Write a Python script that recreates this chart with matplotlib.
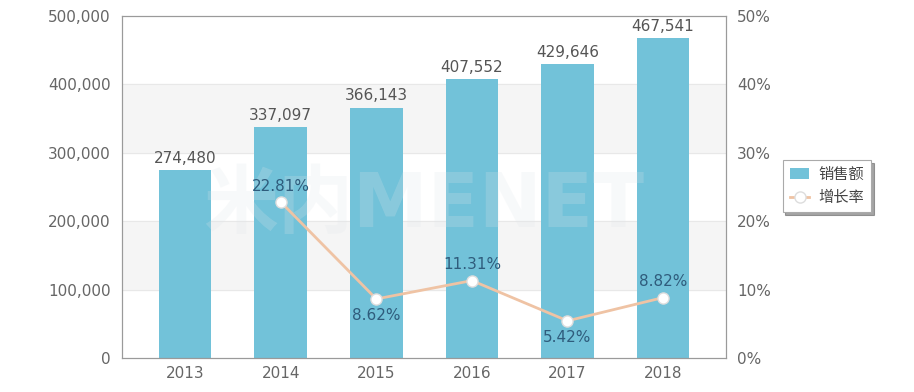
import matplotlib
matplotlib.use('Agg')
import matplotlib.pyplot as plt
from matplotlib.ticker import FuncFormatter
import numpy as np

plt.rcParams['font.family'] = ['DejaVu Sans', 'Noto Sans CJK SC']

years = ['2013', '2014', '2015', '2016', '2017', '2018']
sales = [274480, 337097, 366143, 407552, 429646, 467541]
growth_years = ['2014', '2015', '2016', '2017', '2018']
growth = [22.81, 8.62, 11.31, 5.42, 8.82]
growth_above = [True, False, True, False, True]

bar_color = '#72c2d9'
line_color = '#efc3a4'
label_blue = '#2f5c7c'
text_gray = '#666666'
edge_gray = '#9a9a9a'

fig = plt.figure(figsize=(9.14, 3.92), dpi=100)
ax = fig.add_axes([0.1335, 0.087, 0.661, 0.872])
ax2 = ax.twinx()

x = np.arange(len(years))
ax.set_xlim(-0.66, len(years) - 0.34)
ax.set_ylim(0, 500000)

# alternating bands
for lo in (100000, 300000):
    ax.axhspan(lo, lo + 100000, color='#f5f5f5', zorder=0)
for y in range(100000, 500000, 100000):
    ax.axhline(y, color='#e8e8e8', lw=0.8, zorder=0.5)

ax.bar(x, sales, width=0.55, color=bar_color, zorder=2, label='销售额')
for xi, v in zip(x, sales):
    ax.text(xi, v + 6000, f'{v:,}', ha='center', va='bottom',
            fontsize=11, color='#555555', zorder=5)

ax.set_xticks(x)
ax.set_xticklabels(years)
ax.set_yticks(range(0, 500001, 100000))
ax.yaxis.set_major_formatter(FuncFormatter(lambda v, p: f'{int(v):,}'))

# watermark
ax.text(2.5, 222000, '米内MENET', ha='center', va='center', fontsize=54,
        fontweight='bold', color='#dfe6ea', alpha=0.22, zorder=3)

gx = [years.index(y) for y in growth_years]
ax2.set_ylim(0, 50)
ax2.plot(gx, growth, color=line_color, lw=2, marker='o', markersize=8,
         markerfacecolor='white', markeredgecolor='#dddddd', zorder=4,
         label='增长率')
for xi, g, up in zip(gx, growth, growth_above):
    off = 1.2 if up else -1.3
    ax2.text(xi, g + off, f'{g:.2f}%', ha='center',
             va='bottom' if up else 'top', fontsize=11, color=label_blue, zorder=6)
ax2.set_yticks(range(0, 51, 10))
ax2.yaxis.set_major_formatter(FuncFormatter(lambda v, p: f'{int(v)}%'))

for a in (ax, ax2):
    for s in a.spines.values():
        s.set_color(edge_gray)
    a.tick_params(colors=text_gray, labelsize=11, length=0, pad=8)
ax.tick_params(axis='x', pad=6)

h1, l1 = ax.get_legend_handles_labels()
h2, l2 = ax2.get_legend_handles_labels()
leg = fig.legend(h1 + h2, l1 + l2, loc='center left', bbox_to_anchor=(0.848, 0.525),
                 frameon=True, fontsize=11, handlelength=1.3, shadow=True,
                 fancybox=False, borderpad=0.45, labelspacing=0.55,
                 handletextpad=0.6)
leg.get_frame().set_edgecolor('#aaaaaa')
leg.get_frame().set_linewidth(0.8)
for t in leg.get_texts():
    t.set_color('#444444')

fig.savefig('out.png', dpi=100)
